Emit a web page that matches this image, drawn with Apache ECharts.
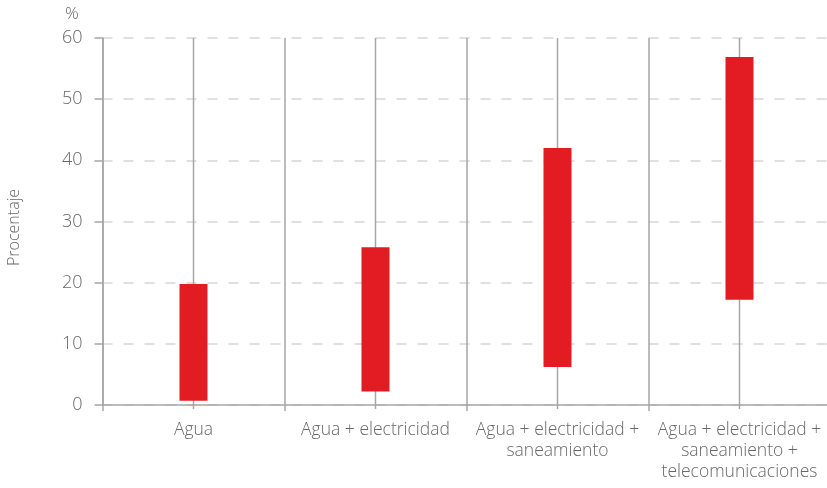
<!DOCTYPE html>
<html>
<head>
<meta charset="utf-8">
<script src="https://cdn.jsdelivr.net/npm/echarts@6/dist/echarts.min.js"></script>
<style>
  html, body { margin: 0; padding: 0; background: #fff; }
  #chart { width: 827px; height: 488px; }
</style>
</head>
<body>
<div id="chart"></div>
<script>
    // rangos de porcentaje por combinación de servicios
    var categories = ['Agua', 'Agua + electricidad', 'Agua + electricidad +\nsaneamiento', 'Agua + electricidad +\nsaneamiento +\ntelecomunicaciones'];
    var lowValues = [0.7, 2.2, 6.2, 17.2];
    var highValues = [19.8, 25.8, 42.0, 56.9];
    var whiskerLow = [0, 0, 0, 0];
    var whiskerHigh = [60, 60, 60, 60];

    var gray = '#a6a6a6';
    var textGray = '#686868';

    var chart = echarts.init(document.getElementById('chart'));

    var data = categories.map(function (c, i) {
        return [i, lowValues[i], highValues[i], whiskerLow[i], whiskerHigh[i]];
    });

    var option = {
        animation: false,
        textStyle: { fontFamily: 'Open Sans', fontWeight: 300 },
        grid: { left: 102.5, width: 728, top: 38, bottom: 83, outerBoundsMode: 'none' },
        graphic: [
            {
                type: 'text', left: 65, top: 6,
                style: { text: '%', fontSize: 17, fill: textGray, fontFamily: 'Open Sans', fontWeight: 300 }
            },
            {
                type: 'text', x: 6, y: 266, rotation: Math.PI / 2,
                style: { text: 'Procentaje', fontSize: 16, fill: textGray, fontFamily: 'Open Sans', fontWeight: 300 }
            }
        ],
        xAxis: {
            type: 'category',
            data: categories,
            boundaryGap: true,
            axisLine: { lineStyle: { color: gray, width: 1.5 } },
            axisTick: { show: true, length: 6, lineStyle: { color: gray, width: 1.5 } },
            splitLine: { show: true, lineStyle: { color: gray, width: 1.5 } },
            axisLabel: { color: textGray, fontSize: 17.5, fontWeight: 300, margin: 15, lineHeight: 21, interval: 0 }
        },
        yAxis: {
            type: 'value',
            min: 0,
            max: 60,
            interval: 10,
            axisLine: { show: true, lineStyle: { color: gray, width: 1.5 } },
            axisTick: { show: true, length: 8, lineStyle: { color: gray, width: 1.5 } },
            axisLabel: { color: textGray, fontSize: 18, fontWeight: 300, margin: 20 },
            splitLine: { show: true, lineStyle: { color: '#d6d6d6', width: 1.5, type: [10, 11] } }
        },
        series: [
            {
                type: 'custom',
                data: data,
                encode: { x: 0, y: [1, 2, 3, 4] },
                renderItem: function (params, api) {
                    var idx = api.value(0);
                    var lo = api.coord([idx, api.value(1)]);
                    var hi = api.coord([idx, api.value(2)]);
                    var wLo = api.coord([idx, api.value(3)]);
                    var wHi = api.coord([idx, api.value(4)]);
                    var w = 28;
                    return {
                        type: 'group',
                        children: [
                            {
                                type: 'line',
                                shape: { x1: wLo[0], y1: wLo[1] + 4, x2: wHi[0], y2: wHi[1] },
                                style: { stroke: gray, lineWidth: 1.5 }
                            },
                            {
                                type: 'rect',
                                shape: { x: lo[0] - w / 2, y: hi[1], width: w, height: lo[1] - hi[1] },
                                style: { fill: '#e31b23' }
                            }
                        ]
                    };
                }
            }
        ]
    };
    chart.setOption(option);
</script>
</body>
</html>
